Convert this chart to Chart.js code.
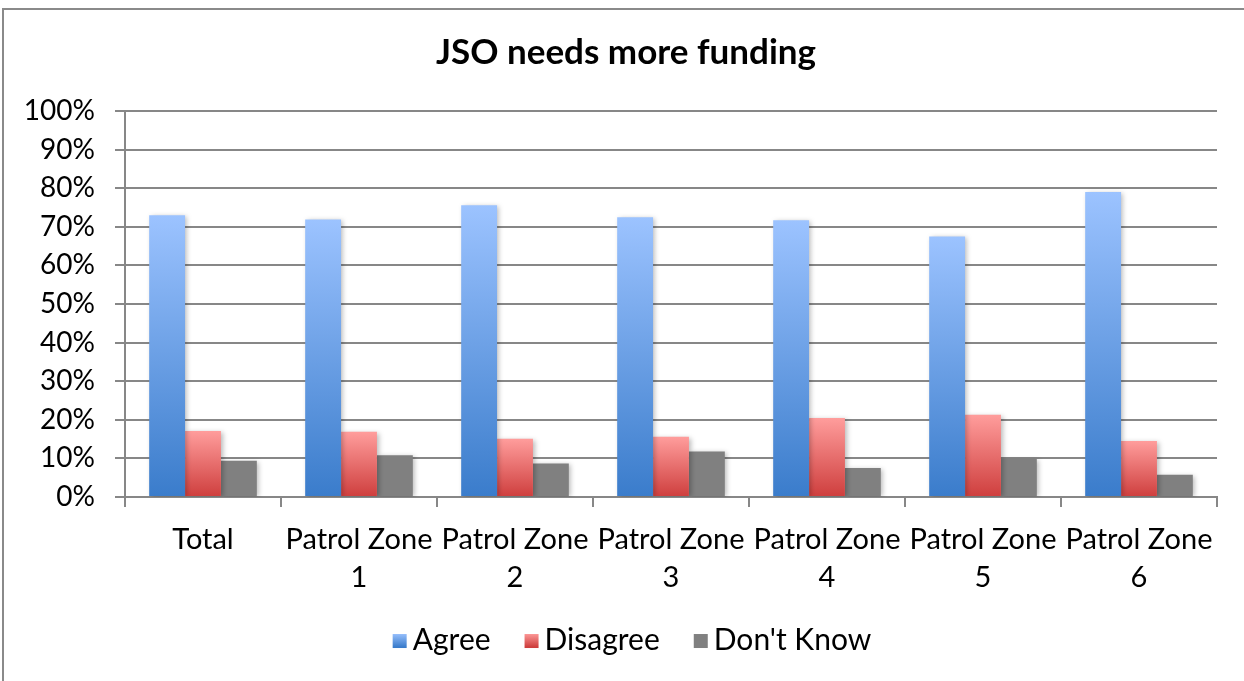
<!DOCTYPE html>
<html>
<head>
<meta charset="utf-8">
<script src="https://cdn.jsdelivr.net/npm/chart.js@4/dist/chart.umd.min.js"></script>
<style>
  html, body { margin: 0; padding: 0; background: #ffffff; }
  #wrap { position: relative; width: 1244px; height: 681px; }
</style>
</head>
<body>
<div id="wrap"><canvas id="c" width="1244" height="681"></canvas></div>
<script>
const chartTitle = 'JSO needs more funding';
const categories = ['Total', ['Patrol Zone', '1'], ['Patrol Zone', '2'], ['Patrol Zone', '3'], ['Patrol Zone', '4'], ['Patrol Zone', '5'], ['Patrol Zone', '6']];
const seriesNames = ['Agree', 'Disagree', "Don't Know"];
const agree = [73.0, 71.9, 75.6, 72.5, 71.7, 67.5, 79.0];
const disagree = [17.1, 16.9, 15.1, 15.6, 20.5, 21.3, 14.5];
const dontKnow = [9.4, 10.8, 8.7, 11.8, 7.5, 9.9, 5.8];
const yTicks = [0, 10, 20, 30, 40, 50, 60, 70, 80, 90, 100];

const FONT = 'Lato, "Open Sans", sans-serif';
const GRID = '#878787';
const seriesColors = [
  { top: '#9CC3FF', bottom: '#3A7CCB', solid: '#6FA0E6' },
  { top: '#FF9D9C', bottom: '#CE3E3D', solid: '#EC7574' },
  { top: '#808080', bottom: '#808080', solid: '#808080' }
];

function barGradient(col) {
  return function (ctx) {
    const chart = ctx.chart;
    const y = chart.scales && chart.scales.y;
    if (ctx.type !== 'data' || !y || !chart.chartArea) return col.solid;
    const top = y.getPixelForValue(ctx.raw);
    const bottom = y.getPixelForValue(0);
    if (!isFinite(top) || !isFinite(bottom) || top === bottom) return col.solid;
    const g = chart.ctx.createLinearGradient(0, top, 0, bottom);
    g.addColorStop(0, col.top);
    g.addColorStop(1, col.bottom);
    return g;
  };
}

const frame = {
  id: 'frame',
  beforeDraw(chart) {
    const c = chart.ctx;
    c.save();
    c.fillStyle = '#ffffff';
    c.fillRect(0, 0, chart.width, chart.height);
    c.strokeStyle = '#8a8a8a';
    c.lineWidth = 2;
    c.strokeRect(3, 9, chart.width - 2, chart.height - 8);
    c.restore();
  }
};

const shadow = {
  id: 'shadow',
  beforeDatasetsDraw(chart) {
    const c = chart.ctx;
    c.save();
    c.shadowColor = 'rgba(0,0,0,0.28)';
    c.shadowBlur = 5;
    c.shadowOffsetX = 2;
    c.shadowOffsetY = 1;
  },
  afterDatasetsDraw(chart) {
    chart.ctx.restore();
  }
};

// Title centred like the original (slightly right of the canvas centre)
const customTitle = {
  id: 'customTitle',
  afterDraw(chart) {
    const c = chart.ctx;
    c.save();
    c.font = 'bold 35px ' + FONT;
    c.fillStyle = '#000000';
    c.textAlign = 'center';
    c.textBaseline = 'middle';
    c.fillText(chartTitle, chart.width / 2 + 4, chart.chartArea.top - 58);
    c.restore();
  }
};

// Legend drawn with a small gap between swatch and text, like the original
const customLegend = {
  id: 'customLegend',
  afterDraw(chart) {
    const c = chart.ctx;
    const fontSize = 30, box = 14, gap = 6, spacing = 34;
    c.save();
    c.font = fontSize + 'px ' + FONT;
    c.textBaseline = 'middle';
    c.textAlign = 'left';
    const items = chart.data.datasets.map((ds, i) => ({
      text: ds.label, w: box + gap + c.measureText(ds.label).width, col: seriesColors[i]
    }));
    const total = items.reduce((s, it) => s + it.w, 0) + spacing * (items.length - 1);
    const cx = chart.width / 2 + 10;
    const yc = chart.chartArea.bottom + 143;
    let x = cx - total / 2;
    items.forEach(it => {
      const g = c.createLinearGradient(0, yc - box / 2, 0, yc + box / 2);
      g.addColorStop(0, it.col.top);
      g.addColorStop(1, it.col.bottom);
      c.fillStyle = g;
      c.fillRect(x, yc - box / 2 + 1, box, box);
      c.fillStyle = '#000000';
      c.fillText(it.text, x + box + gap, yc);
      x += it.w + spacing;
    });
    c.restore();
  }
};

new Chart(document.getElementById('c'), {
  type: 'bar',
  data: {
    labels: categories,
    datasets: [
      { label: seriesNames[0], data: agree, backgroundColor: barGradient(seriesColors[0]) },
      { label: seriesNames[1], data: disagree, backgroundColor: barGradient(seriesColors[1]) },
      { label: seriesNames[2], data: dontKnow, backgroundColor: seriesColors[2].solid }
    ]
  },
  options: {
    responsive: false,
    animation: false,
    devicePixelRatio: 1,
    layout: { padding: { left: 10, right: 27, top: 111, bottom: 70 } },
    datasets: { bar: { categoryPercentage: 0.69, barPercentage: 1.0, borderWidth: 0 } },
    plugins: {
      title: { display: false },
      legend: { display: false },
      tooltip: { enabled: false }
    },
    scales: {
      x: {
        grid: { drawOnChartArea: false, drawTicks: true, tickLength: 10, color: GRID, lineWidth: 2, offset: true },
        border: { display: true, color: GRID, width: 2 },
        ticks: {
          color: '#000000',
          font: { family: FONT, size: 29, lineHeight: 1.31 },
          padding: 14,
          autoSkip: false,
          maxRotation: 0,
          minRotation: 0
        }
      },
      y: {
        min: 0,
        max: 100,
        afterFit(scale) { scale.width = 115; },
        afterBuildTicks(scale) { scale.ticks = yTicks.map(v => ({ value: v })); },
        grid: { color: GRID, lineWidth: 2, tickLength: 10, drawTicks: true },
        border: { display: true, color: GRID, width: 2 },
        ticks: {
          color: '#000000',
          font: { family: FONT, size: 28 },
          padding: 20,
          callback: v => v + '%'
        }
      }
    }
  },
  plugins: [frame, shadow, customTitle, customLegend]
});
</script>
</body>
</html>
